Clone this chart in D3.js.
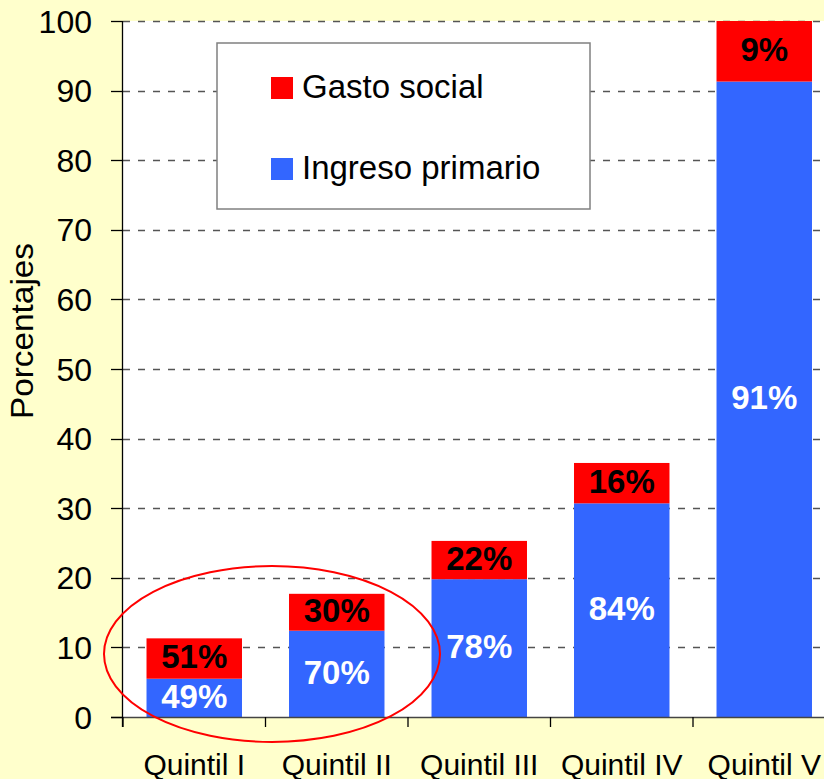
<!DOCTYPE html>
<html>
<head>
<meta charset="utf-8">
<script src="https://cdn.jsdelivr.net/npm/d3@7"></script>
<style>
  html, body { margin: 0; padding: 0; background: #FFFFCC; overflow: hidden; }
  svg { display: block; }
  text { font-family: "Liberation Sans", Arial, sans-serif; }
</style>
</head>
<body>
<svg id="chart" width="824" height="779"></svg>
<script>
// ---- Data ----
const categories = ["Quintil I", "Quintil II", "Quintil III", "Quintil IV", "Quintil V"];
const ingresoPrimario = [5.5, 12.4, 19.8, 30.7, 91.3];
const gastoSocial = [5.8, 5.3, 5.5, 5.8, 8.7];
const ingresoLabels = ["49%", "70%", "78%", "84%", "91%"];
const gastoLabels = ["51%", "30%", "22%", "16%", "9%"];
const yTicks = [0, 10, 20, 30, 40, 50, 60, 70, 80, 90, 100];
const seriesNames = ["Gasto social", "Ingreso primario"];
const colors = { gasto: "#FF0000", ingreso: "#3366FF" };

// ---- Layout ----
const svg = d3.select("#chart");
const pLeft = 123, pTop = 21, pBottom = 717, pRight = 835.5;

const x = d3.scaleBand().domain(categories).range([pLeft, pRight])
  .paddingInner(0.33).paddingOuter(0.165);
const y = d3.scaleLinear().domain([0, 100]).range([pBottom, pTop]);
const step = x.step();

// background
svg.append("rect").attr("width", 824).attr("height", 779).attr("fill", "#FFFFCC");
// plot area
svg.append("rect").attr("x", pLeft).attr("y", pTop).attr("width", pRight - pLeft)
  .attr("height", pBottom - pTop).attr("fill", "#FFFFFF");

// gridlines
svg.append("g").selectAll("line").data(yTicks.filter(d => d > 0)).join("line")
  .attr("x1", pLeft).attr("x2", 824)
  .attr("y1", d => Math.round(y(d)) + 0.5).attr("y2", d => Math.round(y(d)) + 0.5)
  .attr("stroke", "#555").attr("stroke-width", 1.3).attr("stroke-dasharray", "7,8");

// bars
const stacked = categories.map((c, i) => ({ c, a: ingresoPrimario[i], b: gastoSocial[i], la: ingresoLabels[i], lb: gastoLabels[i] }));
const bars = svg.append("g");
bars.selectAll("rect.ing").data(stacked).join("rect").attr("class", "ing")
  .attr("x", d => x(d.c)).attr("width", x.bandwidth())
  .attr("y", d => y(d.a)).attr("height", d => y(0) - y(d.a))
  .attr("fill", colors.ingreso);
bars.selectAll("rect.gas").data(stacked).join("rect").attr("class", "gas")
  .attr("x", d => x(d.c)).attr("width", x.bandwidth())
  .attr("y", d => y(d.a + d.b)).attr("height", d => y(d.a) - y(d.a + d.b))
  .attr("fill", colors.gasto);

// labels
bars.selectAll("text.li").data(stacked).join("text").attr("class", "li")
  .attr("x", d => x(d.c) + x.bandwidth() / 2)
  .attr("y", d => (y(d.a) + y(0)) / 2 - 2)
  .attr("dy", "0.36em").attr("text-anchor", "middle")
  .attr("font-size", 33).attr("font-weight", "bold").attr("fill", "#FFFFFF")
  .text(d => d.la);
bars.selectAll("text.lg").data(stacked).join("text").attr("class", "lg")
  .attr("x", d => x(d.c) + x.bandwidth() / 2)
  .attr("y", d => (y(d.a) + y(d.a + d.b)) / 2 - 2)
  .attr("dy", "0.36em").attr("text-anchor", "middle")
  .attr("font-size", 33).attr("font-weight", "bold").attr("fill", "#000000")
  .text(d => d.lb);

// x axis baseline
svg.append("line").attr("x1", 111).attr("x2", 824).attr("y1", pBottom + 0.5).attr("y2", pBottom + 0.5)
  .attr("stroke", "#444").attr("stroke-width", 1.3);
// category ticks
svg.append("g").selectAll("line").data(categories.concat(["_end"])).join("line")
  .attr("x1", (d, i) => pLeft + i * step).attr("x2", (d, i) => pLeft + i * step)
  .attr("y1", pBottom).attr("y2", pBottom + 10)
  .attr("stroke", "#000").attr("stroke-width", 1.3);
// category labels
svg.append("g").selectAll("text").data(categories).join("text")
  .attr("x", d => x(d) + x.bandwidth() / 2).attr("y", 775)
  .attr("text-anchor", "middle").attr("font-size", 30).attr("fill", "#000")
  .text(d => d);

// y axis
svg.append("line").attr("x1", pLeft - 0.5).attr("x2", pLeft - 0.5).attr("y1", pTop).attr("y2", pBottom + 10)
  .attr("stroke", "#000").attr("stroke-width", 1.3);
const yt = svg.append("g");
yt.selectAll("line").data(yTicks).join("line")
  .attr("x1", 111).attr("x2", pLeft)
  .attr("y1", d => Math.round(y(d)) + 0.5).attr("y2", d => Math.round(y(d)) + 0.5)
  .attr("stroke", "#000").attr("stroke-width", 1.3);
yt.selectAll("text").data(yTicks).join("text")
  .attr("x", 92).attr("y", d => y(d)).attr("dy", "0.36em")
  .attr("text-anchor", "end").attr("font-size", 32).attr("fill", "#000")
  .text(d => d);

// y title
svg.append("text").attr("transform", "translate(33,331) rotate(-90)")
  .attr("text-anchor", "middle").attr("font-size", 31)
  .attr("textLength", 176).attr("lengthAdjust", "spacingAndGlyphs")
  .text("Porcentajes");

// legend
const lg = svg.append("g");
lg.append("rect").attr("x", 217).attr("y", 43).attr("width", 373).attr("height", 166)
  .attr("fill", "#FFFFFF").attr("stroke", "#808080").attr("stroke-width", 1.5);
const legendColors = [colors.gasto, colors.ingreso];
const legendY = [77, 158];
seriesNames.forEach((n, i) => {
  lg.append("rect").attr("x", 271).attr("y", legendY[i]).attr("width", 22).attr("height", 22)
    .attr("fill", legendColors[i]);
  lg.append("text").attr("x", 302).attr("y", legendY[i] + 21)
    .attr("font-size", 33).attr("fill", "#000").text(n);
});

// highlight ellipse
svg.append("ellipse").attr("cx", 272).attr("cy", 654).attr("rx", 168).attr("ry", 88)
  .attr("fill", "none").attr("stroke", "#FF0000").attr("stroke-width", 2);
</script>
</body>
</html>
